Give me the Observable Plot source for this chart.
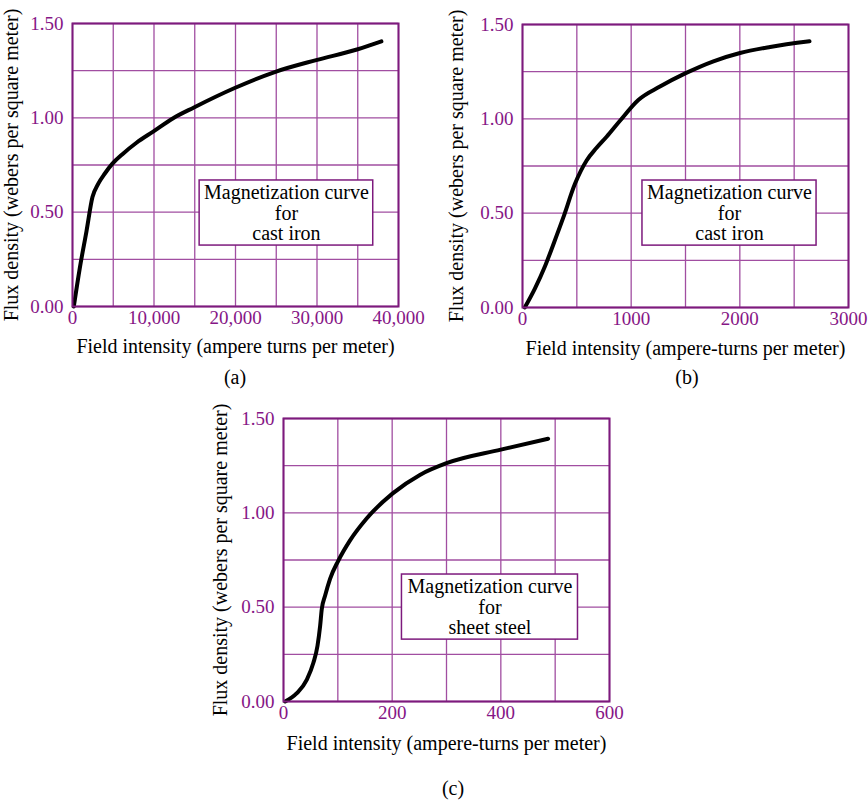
<!DOCTYPE html>
<html><head><meta charset="utf-8">
<script src="https://cdn.jsdelivr.net/npm/d3@7"></script>
<script src="https://cdn.jsdelivr.net/npm/@observablehq/plot@0.6"></script>
<style>
body{margin:0;background:#fff;}
#root{position:relative;width:868px;height:800px;background:#fff;font-family:"Liberation Serif","Times New Roman",serif;overflow:hidden;}
.panel{position:absolute;}
.panel svg{overflow:visible;}
.cap{position:absolute;font-size:20px;transform:translate(-50%,-50%);color:#000;white-space:nowrap;}
</style></head><body><div id="root"></div>
<script>
// Panel (a): cast iron, wide range
const a_H = [160, 900, 1720, 2450, 3150, 3970, 4900, 6200, 7850, 9900, 12350, 14900, 19900, 24900, 29900, 34900, 37900];
const a_B = [0, 0.205, 0.40, 0.58, 0.65, 0.705, 0.757, 0.81, 0.868, 0.927, 0.998, 1.055, 1.158, 1.244, 1.306, 1.362, 1.405];
const a_xTicks = [0, 10000, 20000, 30000, 40000];
const a_xGrid = [0, 5000, 10000, 15000, 20000, 25000, 30000, 35000, 40000];
// Panel (b): cast iron, low range
const b_H = [21, 114, 206, 283, 375, 482, 590, 680, 774, 897, 1066, 1265, 1502, 1757, 2002, 2279, 2641];
const b_B = [0, 0.10, 0.217, 0.333, 0.476, 0.654, 0.779, 0.845, 0.905, 0.99, 1.10, 1.171, 1.242, 1.305, 1.349, 1.381, 1.411];
const b_xTicks = [0, 1000, 2000, 3000];
const b_xGrid = [0, 500, 1000, 1500, 2000, 2500, 3000];
// Panel (c): sheet steel
const c_H = [3, 24.5, 43, 55, 62.5, 67.4, 70.4, 76.5, 85.7, 101, 122.5, 153, 201, 251, 300, 400, 487];
const c_B = [0, 0.044, 0.116, 0.205, 0.294, 0.40, 0.489, 0.56, 0.65, 0.747, 0.854, 0.97, 1.103, 1.201, 1.263, 1.335, 1.393];
const c_xTicks = [0, 200, 400, 600];
const c_xGrid = [0, 100, 200, 300, 400, 500, 600];
// shared y
const yTicks = [0, 0.5, 1.0, 1.5];
const yGrid = [0, 0.25, 0.5, 0.75, 1.0, 1.25, 1.5];
const yLabel = "Flux density (webers per square meter)";
const xLabelA = "Field intensity (ampere turns per meter)";
const xLabelBC = "Field intensity (ampere-turns per meter)";
const boxTextA = "Magnetization curve\nfor\ncast iron";
const boxTextC = "Magnetization curve\nfor\nsheet steel";
const captions = ["(a)", "(b)", "(c)"];

const PURPLE = "#7d1a7d", GRID = "#a14ea1", TICK = "#861686";
const root = document.getElementById("root");

function panel(o) {
  const data = o.H.map((h, i) => ({H: h, B: o.B[i]}));
  const chart = Plot.plot({
    width: o.width, height: o.height,
    marginLeft: o.mL, marginTop: o.mT, marginRight: o.mR, marginBottom: o.mB,
    style: {fontFamily: '"Liberation Serif","Times New Roman",serif', fontSize: "20px", background: "transparent", overflow: "visible"},
    x: {domain: o.xDomain},
    y: {domain: [0, 1.5]},
    marks: [
      Plot.gridX(o.xGrid, {stroke: GRID, strokeOpacity: 1, strokeWidth: 1.3}),
      Plot.gridY(yGrid, {stroke: GRID, strokeOpacity: 1, strokeWidth: 1.3}),
      Plot.line(data, {x: "H", y: "B", curve: o.curve, stroke: "black", strokeWidth: 4}),
      Plot.rect([o.box], {x1: "x1", x2: "x2", y1: "y1", y2: "y2", fill: "white", stroke: PURPLE, strokeWidth: 1.5}),
      Plot.text([o.box], {x: d => (d.x1 + d.x2) / 2, y: d => (d.y1 + d.y2) / 2, text: () => o.boxText, fontSize: 20, lineHeight: 1.03, fill: "black"}),
      Plot.axisX(o.xTicks, {tickFormat: o.xFormat, tickSize: 0, tickPadding: 4, fill: TICK, fontSize: 19, label: null}),
      Plot.axisX([], {label: o.xLabel, labelAnchor: "center", labelArrow: "none", labelOffset: o.xLO, tickSize: 0, fill: "black", fontSize: 20}),
      Plot.axisY(yTicks, {tickFormat: d3.format(".2f"), tickSize: 0, tickPadding: 9, fill: TICK, fontSize: 19, label: null}),
      Plot.axisY([], {label: yLabel, labelAnchor: "center", labelArrow: "none", labelOffset: o.yLO, tickSize: 0, fill: "black", fontSize: 20}),
      Plot.frame({stroke: PURPLE, strokeWidth: 2})
    ]
  });
  const div = document.createElement("div");
  div.className = "panel";
  div.style.left = o.left + "px";
  div.style.top = o.top + "px";
  div.appendChild(chart);
  root.appendChild(div);
}

panel({H: a_H, B: a_B, curve: "monotone-x", xDomain: [0, 40000], xTicks: a_xTicks, xGrid: a_xGrid, xFormat: d3.format(","),
  xLabel: xLabelA, box: {x1: 15600, x2: 36900, y1: 0.323, y2: 0.668}, boxText: boxTextA,
  left: 0, top: 0, width: 430, height: 372, mL: 72, mT: 23, mR: 32, mB: 66, xLO: 46, yLO: 69});
panel({H: b_H, B: b_B, curve: "monotone-x", xDomain: [0, 3000], xTicks: b_xTicks, xGrid: b_xGrid, xFormat: d3.format("d"),
  xLabel: xLabelBC, box: {x1: 1104, x2: 2706, y1: 0.328, y2: 0.673}, boxText: boxTextA,
  left: 430, top: 0, width: 438, height: 372, mL: 92, mT: 24, mR: 20, mB: 65, xLO: 47, yLO: 74});
panel({H: c_H, B: c_B, curve: "monotone-x", xDomain: [0, 600], xTicks: c_xTicks, xGrid: c_xGrid, xFormat: d3.format("d"),
  xLabel: xLabelBC, box: {x1: 218, x2: 542, y1: 0.328, y2: 0.673}, boxText: boxTextC,
  left: 200, top: 390, width: 440, height: 377, mL: 83, mT: 28, mR: 31, mB: 66, xLO: 48, yLO: 71});

const capPos = [[235, 377], [687, 377], [453, 788]];
captions.forEach((c, i) => {
  const d = document.createElement("div");
  d.className = "cap";
  d.textContent = c;
  d.style.left = capPos[i][0] + "px";
  d.style.top = capPos[i][1] + "px";
  root.appendChild(d);
});
</script>
</body></html>
